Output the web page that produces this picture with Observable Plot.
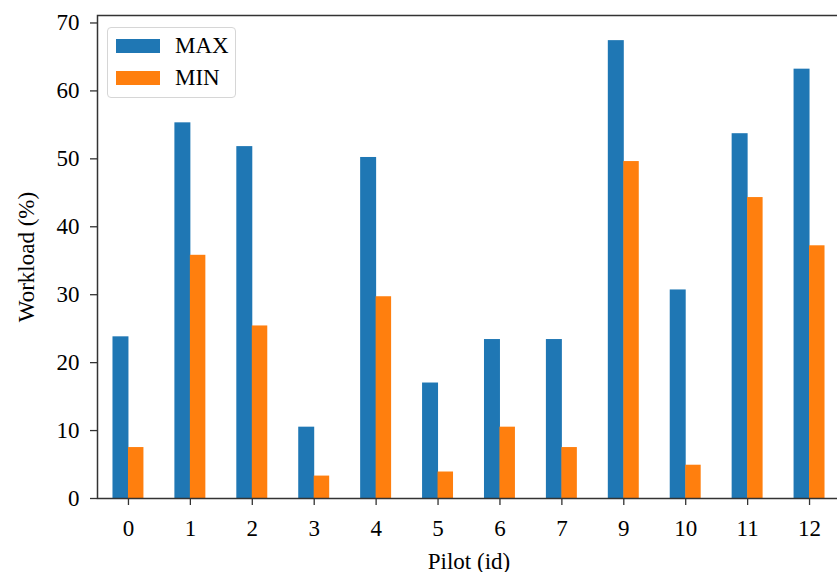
<!DOCTYPE html>
<html>
<head>
<meta charset="utf-8">
<script src="https://cdn.jsdelivr.net/npm/d3@7"></script>
<script src="https://cdn.jsdelivr.net/npm/@observablehq/plot@0.6"></script>
<style>
  html, body { margin: 0; padding: 0; background: #fff; overflow: hidden; }
  #wrap { position: relative; width: 837px; height: 572px; overflow: hidden; font-family: "Liberation Serif", "Times New Roman", serif; }
  #chart svg { max-width: none !important; }
  #legend { position: absolute; left: 107px; top: 27px; width: 129px; height: 71px; border: 1px solid #d6d6d6; border-radius: 4px; background: rgba(255,255,255,0.85); box-sizing: border-box; }
  .row { position: absolute; left: 8px; height: 14px; }
  .sw { position: absolute; left: 0; top: 0; width: 44px; height: 14px; }
  .lab { position: absolute; left: 59px; top: -7px; font-size: 23px; line-height: 28px; color: #000; white-space: nowrap; }
</style>
</head>
<body>
<div id="wrap"><div id="chart"></div><div id="legend"></div></div>
<script>
const pilots = ["0","1","2","3","4","5","6","7","9","10","11","12"];
const maxValues = [23.8, 55.3, 51.8, 10.5, 50.2, 17.0, 23.4, 23.4, 67.4, 30.7, 53.7, 63.2];
const minValues = [7.5, 35.8, 25.4, 3.3, 29.7, 3.9, 10.5, 7.5, 49.6, 4.9, 44.3, 37.2];
const seriesNames = ["MAX", "MIN"];
const seriesColors = ["#1f77b4", "#ff7f0e"];
const yTicks = [0, 10, 20, 30, 40, 50, 60, 70];

const W = 840, H = 572, mL = 97, mR = 0, mT = 15, mB = 74;
const bw = (W - mL - mR) / pilots.length;

const maxData = pilots.map((p, i) => ({pilot: p, value: maxValues[i], series: "MAX"}));
const minData = pilots.map((p, i) => ({pilot: p, value: minValues[i], series: "MIN"}));

const chart = Plot.plot({
  width: W, height: H,
  marginLeft: mL, marginRight: mR, marginTop: mT, marginBottom: mB,
  style: {fontFamily: "'Liberation Serif', 'Times New Roman', serif", fontSize: "23px", color: "#000", background: "#fff", overflow: "visible", maxWidth: "none"},
  x: {domain: pilots, padding: 0, round: false},
  y: {domain: [0, 71.1]},
  color: {domain: seriesNames, range: seriesColors},
  marks: [
    Plot.barY(maxData, {x: "pilot", y: "value", fill: "series", insetLeft: bw * 0.25, insetRight: bw * 0.5 - 0.5}),
    Plot.barY(minData, {x: "pilot", y: "value", fill: "series", insetLeft: bw * 0.5, insetRight: bw * 0.25}),
    Plot.axisX({tickSize: 7, tickPadding: 14, stroke: "#333", strokeWidth: 1.3, fontSize: 23, label: "Pilot (id)", labelAnchor: "center", labelArrow: "none", labelOffset: 70}),
    Plot.axisY({ticks: yTicks, tickSize: 7, tickPadding: 11, stroke: "#333", strokeWidth: 1.3, fontSize: 23, label: "Workload (%)", labelAnchor: "center", labelArrow: "none", labelOffset: 80}),
    Plot.frame({stroke: "#333", strokeWidth: 1.5})
  ]
});
document.getElementById("chart").appendChild(chart);

const legend = document.getElementById("legend");
seriesNames.forEach((name, i) => {
  const row = document.createElement("div");
  row.className = "row";
  row.style.top = (11 + i * 32) + "px";
  const sw = document.createElement("div");
  sw.className = "sw";
  sw.style.background = seriesColors[i];
  const lab = document.createElement("div");
  lab.className = "lab";
  lab.textContent = name;
  row.appendChild(sw); row.appendChild(lab);
  legend.appendChild(row);
});
</script>
</body>
</html>
